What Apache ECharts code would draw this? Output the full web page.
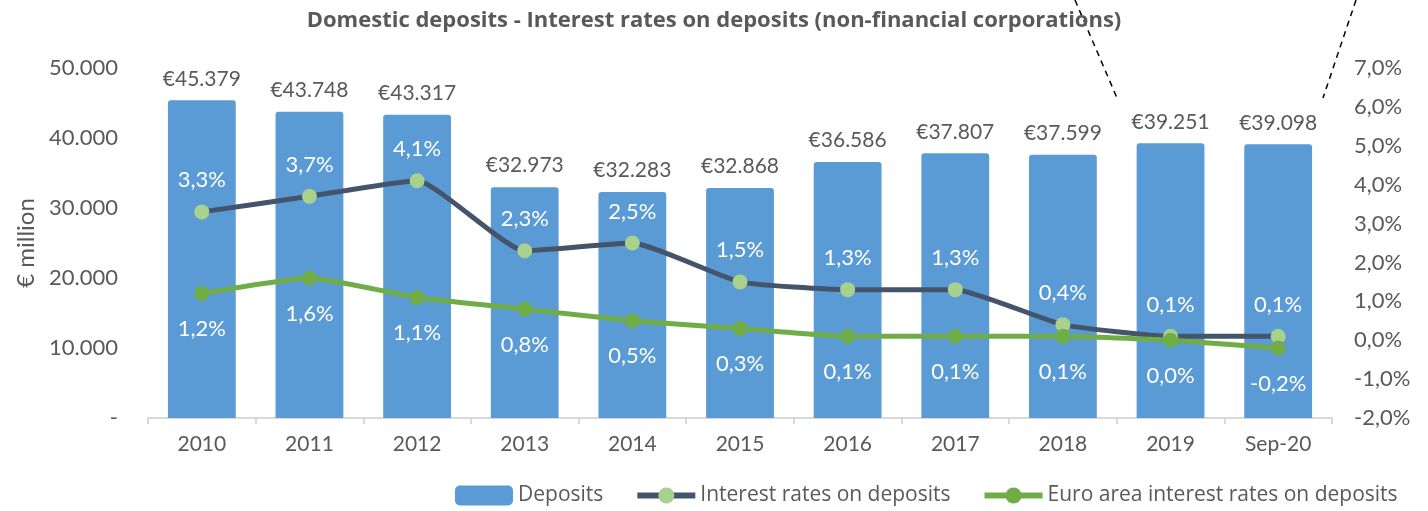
<!DOCTYPE html>
<html>
<head>
<meta charset="utf-8">
<script src="https://cdn.jsdelivr.net/npm/echarts@6/dist/echarts.min.js"></script>
<style>
  html, body { margin: 0; padding: 0; background: #fff; }
  #chart { width: 1428px; height: 511px; }
</style>
</head>
<body>
<div id="chart"></div>
<script>
// data
const categories = ['2010', '2011', '2012', '2013', '2014', '2015', '2016', '2017', '2018', '2019', 'Sep-20'];
const deposits = [45379, 43748, 43317, 32973, 32283, 32868, 36586, 37807, 37599, 39251, 39098];
const ratesDomestic = [3.3, 3.7, 4.1, 2.3, 2.5, 1.5, 1.3, 1.3, 0.4, 0.1, 0.1];
const ratesEuroArea = [1.2, 1.6, 1.1, 0.8, 0.5, 0.3, 0.1, 0.1, 0.1, 0.0, -0.2];

const FONT = 'Lato, "Noto Sans", sans-serif';
const WIDE = '"Open Sans", Lato, sans-serif';
const GREY = '#595959';

const fmtThousands = v => {
  if (v === 0) return '-';
  return String(Math.round(v)).replace(/\B(?=(\d{3})+(?!\d))/g, '.');
};
const fmtPct = v => v.toFixed(1).replace('.', ',') + '%';

const chart = echarts.init(document.getElementById('chart'));

const option = {
  animation: false,
  textStyle: { fontFamily: FONT },
  title: {
    text: 'Domestic deposits - Interest rates on deposits (non-financial corporations)',
    left: 'center',
    top: 5,
    textStyle: { color: GREY, fontSize: 22, fontWeight: 'bold', fontFamily: WIDE }
  },
  legend: {
    bottom: 0,
    left: 450,
    itemGap: 31,
    itemWidth: 58,
    itemHeight: 20,
    textStyle: { color: GREY, fontSize: 21, fontFamily: WIDE },
    data: [
      { name: 'Deposits', itemStyle: { borderRadius: 3 } },
      { name: 'Interest rates on deposits', lineStyle: { width: 6 } },
      { name: 'Euro area interest rates on deposits', lineStyle: { width: 6 } }
    ]
  },
  grid: { left: 148, right: 96, top: 68, bottom: 93 },
  xAxis: {
    type: 'category',
    data: categories,
    axisLine: { lineStyle: { color: '#d9d9d9', width: 2 } },
    axisTick: { show: true, alignWithLabel: false, length: 6, lineStyle: { color: '#d9d9d9', width: 2 } },
    axisLabel: { color: GREY, fontSize: 21, margin: 16, fontFamily: FONT }
  },
  yAxis: [
    {
      type: 'value',
      min: 0, max: 50000, interval: 10000,
      name: '€ million',
      nameLocation: 'middle',
      nameGap: 110,
      nameTextStyle: { color: GREY, fontSize: 24, fontFamily: FONT },
      splitLine: { show: false },
      axisLine: { show: false },
      axisTick: { show: false },
      axisLabel: { color: GREY, fontSize: 22, margin: 30, formatter: fmtThousands, fontFamily: FONT }
    },
    {
      type: 'value',
      min: -2, max: 7, interval: 1,
      position: 'right',
      splitLine: { show: false },
      axisLine: { show: false },
      axisTick: { show: false },
      axisLabel: { color: GREY, fontSize: 22, margin: 22, formatter: fmtPct, fontFamily: FONT }
    }
  ],
  series: [
    {
      name: 'Deposits',
      type: 'bar',
      data: deposits,
      barWidth: '63%',
      itemStyle: { color: '#5B9BD5', borderRadius: [3, 3, 0, 0] },
      label: {
        show: true, position: 'top', distance: 11,
        color: GREY, fontSize: 21, fontFamily: FONT,
        formatter: p => '€' + fmtThousands(p.value)
      },
      z: 1
    },
    {
      name: 'Interest rates on deposits',
      type: 'line',
      yAxisIndex: 1,
      data: ratesDomestic,
      smooth: 0.15,
      symbol: 'circle',
      symbolSize: 15,
      lineStyle: { color: '#44546A', width: 5 },
      itemStyle: { color: '#A9D18E' },
      label: {
        show: true, position: 'top', distance: 13,
        color: '#ffffff', fontSize: 22, fontFamily: FONT,
        formatter: p => fmtPct(p.value)
      },
      z: 3
    },
    {
      name: 'Euro area interest rates on deposits',
      type: 'line',
      yAxisIndex: 1,
      data: ratesEuroArea,
      smooth: 0.15,
      symbol: 'circle',
      symbolSize: 15,
      lineStyle: { color: '#70AD47', width: 5 },
      itemStyle: { color: '#70AD47' },
      label: {
        show: true, position: 'bottom', distance: 17,
        color: '#ffffff', fontSize: 22, fontFamily: FONT,
        formatter: p => fmtPct(p.value)
      },
      z: 4
    }
  ],
  graphic: [
    {
      type: 'line',
      shape: { x1: 1075, y1: 0, x2: 1117, y2: 98 },
      style: { stroke: '#000', lineWidth: 1.5, lineDash: [6, 5] }
    },
    {
      type: 'line',
      shape: { x1: 1356, y1: 0, x2: 1323, y2: 98 },
      style: { stroke: '#000', lineWidth: 1.5, lineDash: [6, 5] }
    }
  ]
};

chart.setOption(option);
</script>
</body>
</html>
